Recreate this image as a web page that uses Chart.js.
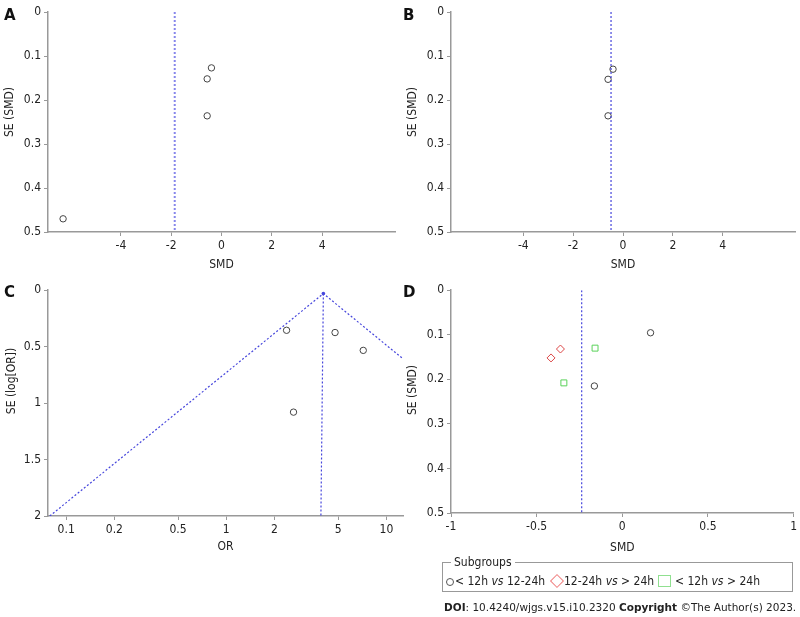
<!DOCTYPE html>
<html>
<head>
<meta charset="utf-8">
<script src="https://cdn.jsdelivr.net/npm/chart.js@4"></script>
<style>
  body { margin: 0; background: #fff; font-family: "DejaVu Sans Condensed", "DejaVu Sans", sans-serif; color: #222; }
  #page { position: relative; width: 800px; height: 617px; overflow: hidden; }
  canvas { position: absolute; }
  .letter { position: absolute; font: bold 15px "DejaVu Sans", sans-serif; color: #111; }
  #legend { position: absolute; left: 442px; top: 562px; width: 351px; height: 30px; border: 1px solid #999; box-sizing: border-box; }
  #legend .cap { position: absolute; left: 8px; top: -8px; background: #fff; padding: 0 3px; font-size: 12px; line-height: 14px; }
  #legend .item { position: absolute; top: 11px; font-size: 12px; line-height: 14px; white-space: nowrap; }
  .sym { position: absolute; box-sizing: border-box; }
  #doi { position: absolute; left: 444px; top: 601px; font-size: 10.5px; white-space: nowrap; color: #222; font-family: "DejaVu Sans", sans-serif; }
</style>
</head>
<body>
<div id="page">
  <canvas id="chartA" width="400" height="280" style="left:0;top:0"></canvas>
  <canvas id="chartB" width="400" height="280" style="left:400px;top:0"></canvas>
  <canvas id="chartC" width="420" height="280" style="left:0;top:280px"></canvas>
  <canvas id="chartD" width="400" height="280" style="left:400px;top:280px"></canvas>
  <div class="letter" style="left:4px;top:6px">A</div>
  <div class="letter" style="left:403px;top:6px">B</div>
  <div class="letter" style="left:4px;top:283px">C</div>
  <div class="letter" style="left:403px;top:283px">D</div>
  <div id="legend">
    <span class="cap">Subgroups</span>
    <div class="sym" style="left:3px;top:15px;width:8px;height:8px;border:1px solid #555;border-radius:50%"></div>
    <span class="item" style="left:12px">&lt; 12h <i>vs</i> 12-24h</span>
    <div class="sym" style="left:109px;top:13px;width:10px;height:10px;border:1px solid #f08080;transform:rotate(45deg)"></div>
    <span class="item" style="left:121px">12-24h <i>vs</i> &gt; 24h</span>
    <div class="sym" style="left:215px;top:12px;width:13px;height:12px;border:1px solid #90e090"></div>
    <span class="item" style="left:232px">&lt; 12h <i>vs</i> &gt; 24h</span>
  </div>
  <div id="doi"><b>DOI</b>: 10.4240/wjgs.v15.i10.2320 <b>Copyright</b> ©The Author(s) 2023.</div>
</div>
<script>
// A: SMD funnel, all studies
const smdA = [-0.4, -0.57, -0.57, -6.3];
const seA = [0.127, 0.152, 0.236, 0.47];
const pooledA = -1.86;

// B: SMD funnel, outlier removed
const smdB = [-0.4, -0.6, -0.6];
const seB = [0.13, 0.153, 0.236];
const pooledB = -0.48;

// C: OR funnel
const orC = [2.38, 2.63, 4.78, 7.17];
const seC = [0.355, 1.08, 0.375, 0.533];
const pooledTopC = 4.04;
const pooledBottomC = 3.9;
const funnelOrC = [0.079, 4.04, 201];
const funnelSeC = [2, 0.03, 2];

// D: subgroups
const circleSmdD = [0.165, -0.163];
const circleSeD = [0.0955, 0.215];
const diamondSmdD = [-0.361, -0.416];
const diamondSeD = [0.132, 0.152];
const squareSmdD = [-0.159, -0.341];
const squareSeD = [0.13, 0.208];
const pooledD = -0.237;

const smdTicks = [-4, -2, 0, 2, 4];
const smdTicksD = [-1, -0.5, 0, 0.5, 1];
const seTicks = [0, 0.1, 0.2, 0.3, 0.4, 0.5];
const orTicks = [0.1, 0.2, 0.5, 1, 2, 5, 10];
const seTicksC = [0, 0.5, 1, 1.5, 2];

const fam = '"DejaVu Sans Condensed", "DejaVu Sans"';
const font = { family: fam, size: 12 };
const titleFont = { family: fam, size: 12 };
const blue = "rgb(70, 70, 220)";

function points(xs, ys) {
    return xs.map(function (x, i) { return { x: x, y: ys[i] }; });
}

const sideTitle = {
    id: "sideTitle",
    afterDraw(chart, args, opts) {
        const ctx = chart.ctx;
        ctx.save();
        ctx.translate(opts.x, opts.y);
        ctx.rotate(-Math.PI / 2);
        ctx.font = "12px " + fam;
        ctx.fillStyle = "#222";
        ctx.textAlign = "center";
        ctx.textBaseline = "middle";
        ctx.fillText(opts.text, 0, 0);
        ctx.restore();
    },
};

function axisX(type, min, max, ticks, title, height, titlePad) {
    return {
        type: type,
        min: min,
        max: max,
        afterBuildTicks: function (scale) {
            scale.ticks = ticks.map(function (v) { return { value: v }; });
        },
        afterFit: function (scale) { scale.height = height; },
        ticks: {
            font: font,
            color: "#222",
            padding: 3,
            maxRotation: 0,
            autoSkip: false,
            callback: function (v) { return String(v); },
        },
        grid: { drawOnChartArea: false, drawTicks: true, tickLength: 4, color: "#999" },
        border: { color: "#999", width: 1.5 },
        title: { display: true, text: title, font: titleFont, color: "#222", padding: { top: 0, bottom: titlePad } },
    };
}

function axisY(min, max, ticks, width) {
    return {
        min: min,
        max: max,
        reverse: true,
        afterBuildTicks: function (scale) {
            scale.ticks = ticks.map(function (v) { return { value: v }; });
        },
        afterFit: function (scale) { scale.width = width; },
        ticks: {
            font: font,
            color: "#222",
            padding: 3,
            autoSkip: false,
            callback: function (v) { return String(v); },
        },
        grid: { drawOnChartArea: false, drawTicks: true, tickLength: 4, color: "#999" },
        border: { color: "#999", width: 1.5 },
    };
}

function studies(data, style, color, radius) {
    return {
        data: data,
        pointStyle: style,
        pointRadius: radius,
        pointBorderColor: color,
        pointBackgroundColor: "rgba(0,0,0,0)",
        pointBorderWidth: 1,
        showLine: false,
    };
}

function dashed(data, color, width, radius) {
    return {
        data: data,
        showLine: true,
        borderColor: color,
        borderWidth: width,
        borderDash: [2, 2],
        pointRadius: radius || 0,
        pointBackgroundColor: color,
        pointBorderWidth: 0,
        fill: false,
    };
}

function baseOptions(padding, scales, titleOpts) {
    return {
        responsive: false,
        animation: false,
        layout: { padding: padding },
        scales: scales,
        plugins: {
            legend: { display: false },
            tooltip: { enabled: false },
            sideTitle: titleOpts,
        },
    };
}

new Chart(document.getElementById("chartA"), {
    type: "scatter",
    data: {
        datasets: [
            dashed([{ x: pooledA, y: 0 }, { x: pooledA, y: 0.5 }], "rgb(135, 135, 235)", 2),
            studies(points(smdA, seA), "circle", "#444", 3.2),
        ],
    },
    options: baseOptions(
        { left: 0, top: 12, right: 5, bottom: 0 },
        { x: axisX("linear", -6.9, 6.9, smdTicks, "SMD", 48, 8), y: axisY(0, 0.5, seTicks, 48) },
        { text: "SE (SMD)", x: 10, y: 112 }
    ),
    plugins: [sideTitle],
});

new Chart(document.getElementById("chartB"), {
    type: "scatter",
    data: {
        datasets: [
            dashed([{ x: pooledB, y: 0 }, { x: pooledB, y: 0.5 }], blue, 1.2),
            studies(points(smdB, seB), "circle", "#444", 3.2),
        ],
    },
    options: baseOptions(
        { left: 0, top: 12, right: 5, bottom: 0 },
        { x: axisX("linear", -6.9, 6.9, smdTicks, "SMD", 48, 8), y: axisY(0, 0.5, seTicks, 51) },
        { text: "SE (SMD)", x: 13, y: 112 }
    ),
    plugins: [sideTitle],
});

new Chart(document.getElementById("chartC"), {
    type: "scatter",
    data: {
        datasets: [
            dashed(points(funnelOrC, funnelSeC), blue, 1.2, [0, 1.8, 0]),
            dashed([{ x: pooledTopC, y: 0.03 }, { x: pooledBottomC, y: 2 }], blue, 1.2),
            studies(points(orC, seC), "circle", "#444", 3.2),
        ],
    },
    options: baseOptions(
        { left: 0, top: 8, right: 17, bottom: 0 },
        { x: axisX("logarithmic", 0.077, 12.7, orTicks, "OR", 44, 6), y: axisY(0, 2, seTicksC, 48) },
        { text: "SE (log[OR])", x: 12, y: 101 }
    ),
    plugins: [sideTitle],
});

new Chart(document.getElementById("chartD"), {
    type: "scatter",
    data: {
        datasets: [
            dashed([{ x: pooledD, y: 0 }, { x: pooledD, y: 0.5 }], blue, 1.2),
            studies(points(circleSmdD, circleSeD), "circle", "#444", 3.2),
            studies(points(diamondSmdD, diamondSeD), "rectRot", "rgb(220, 70, 70)", 4),
            studies(points(squareSmdD, squareSeD), "rect", "rgb(90, 210, 90)", 4.2),
        ],
    },
    options: baseOptions(
        { left: 0, top: 7, right: 5, bottom: 0 },
        { x: axisX("linear", -1, 1, smdTicksD, "SMD", 47, 5), y: axisY(0, 0.5, seTicks, 51) },
        { text: "SE (SMD)", x: 13, y: 110 }
    ),
    plugins: [sideTitle],
});
</script>
</body>
</html>
